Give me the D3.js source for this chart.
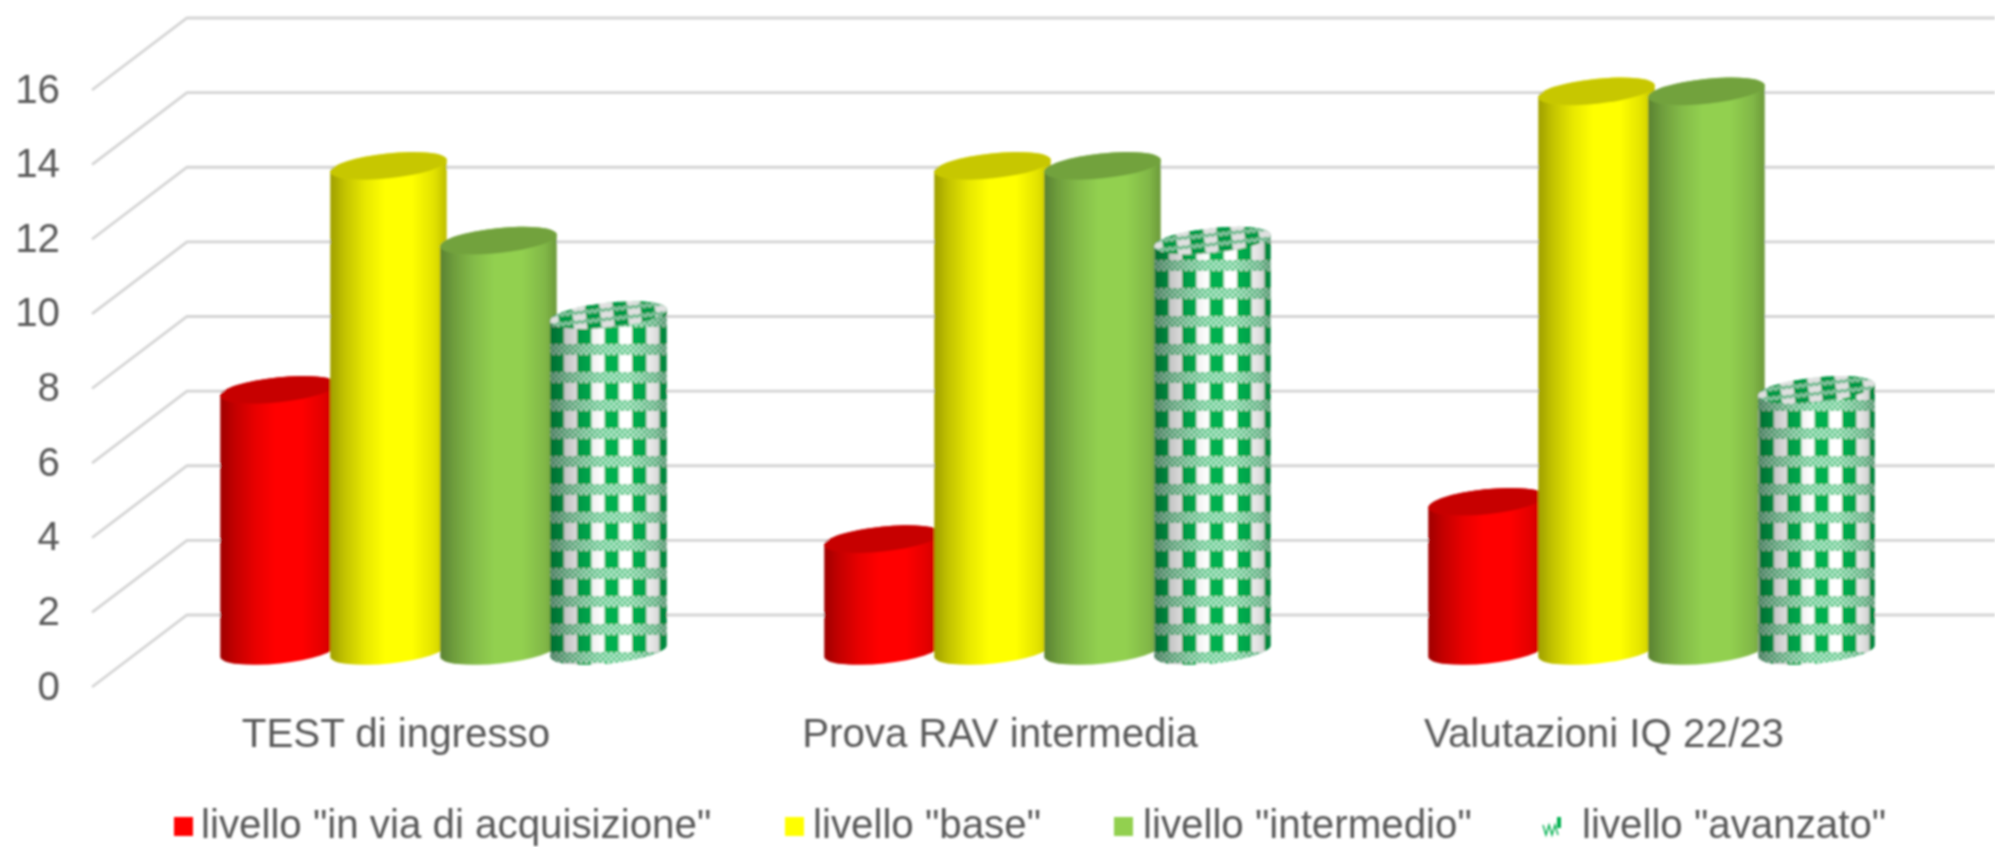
<!DOCTYPE html>
<html>
<head>
<meta charset="utf-8">
<script src="https://cdn.jsdelivr.net/npm/d3@7"></script>
<style>
html,body{margin:0;padding:0;background:#fff;overflow:hidden}
svg{display:block}
text{font-family:"Liberation Sans",Arial,sans-serif;fill:#595959;font-size:40.3px}
</style>
</head>
<body>
<svg id="chart" width="1995" height="847"></svg>
<script>
const categories = ["TEST di ingresso", "Prova RAV intermedia", "Valutazioni IQ 22/23"];
const seriesNames = ['livello "in via di acquisizione"', 'livello "base"', 'livello "intermedio"', 'livello "avanzato"'];
const seriesColors = ["#FF0000", "#FFFF00", "#92D050", "url(#gingham)"];
const inViaValues = [7, 3, 4];
const baseValues = [13, 13, 15];
const intermedioValues = [11, 13, 15];
const avanzatoValues = [9, 11, 7];
const seriesValues = [inViaValues, baseValues, intermedioValues, avanzatoValues];
const yTicks = [0, 2, 4, 6, 8, 10, 12, 14, 16];

const svg = d3.select("#chart");
const defs = svg.append("defs");
const W = 1995;
const GREEN = "#00B050";

// soft edge, as the source picture is an enlarged bitmap
defs.append("filter").attr("id", "soft").attr("x", "-2%").attr("y", "-2%").attr("width", "104%").attr("height", "104%")
  .append("feGaussianBlur").attr("stdDeviation", 0.8);

// cylinder side shading
const shade = defs.append("linearGradient").attr("id", "shade");
[[0, .38], [.12, .24], [.3, .09], [.47, 0], [.7, 0], [.9, .12], [1, .26]].forEach(([o, a]) =>
  shade.append("stop").attr("offset", o).attr("stop-color", "#000").attr("stop-opacity", a));

// gingham fill of the last series
function gingham(id, tileW, tileH, bandH, fineW, fineH, tx, ty, color) {
  const p = defs.append("pattern").attr("id", id).attr("patternUnits", "userSpaceOnUse")
    .attr("width", tileW).attr("height", tileH)
    .attr("patternTransform", `translate(${tx},${ty})`);
  p.append("rect").attr("width", tileW).attr("height", tileH).attr("fill", "#fff");
  p.append("rect").attr("x", 0).attr("y", bandH).attr("width", tileW * 0.52).attr("height", tileH - bandH).attr("fill", color);
  d3.range(Math.ceil(bandH / fineH)).forEach(r => d3.range(Math.ceil(tileW / fineW)).forEach(c => {
    p.append("rect").attr("x", c * fineW).attr("y", r * fineH).attr("width", fineW).attr("height", fineH)
      .attr("fill", (r + c) % 2 ? color : "#c4ebd4").attr("fill-opacity", (r + c) % 2 ? 0.85 : 1);
  }));
}
gingham("gingham", 27.5, 28, 11, 27.5 / 10, 2.75, -0.5, 8, GREEN);
gingham("ginghamTop", 27.5, 9.5, 3.5, 27.5 / 10, 1.75, 5, 2, GREEN);

// scales
const y = d3.scaleLinear().domain([0, 16]).range([615, 18]);
const x0 = d3.scaleBand().domain(categories).range([141, 1953]);
const x1 = d3.scaleBand().domain(seriesNames).range([0, 440]).paddingInner(0);
const rx = 58.5, ry = 12.5, tilt = -6;
const depthX = -95, depthY = 72;        // wall-to-front offset of the 3-D floor
const tc = Math.cos(tilt * Math.PI / 180), ts = Math.sin(tilt * Math.PI / 180);

const root = svg.append("g").attr("filter", "url(#soft)");

// gridlines: wall segment plus side-wall segment
root.append("g").selectAll("path").data(yTicks).join("path")
  .attr("d", d => `M${W},${y(d)}H187L${187 + depthX},${y(d) + depthY}`)
  .attr("fill", "none").attr("stroke", "#d4d4d4").attr("stroke-width", 2.8);

// value axis
const axisG = root.append("g").attr("transform", `translate(68,${depthY})`)
  .call(d3.axisLeft(y).tickValues(yTicks).tickSize(0).tickPadding(8));
axisG.select(".domain").remove();
axisG.selectAll("text").attr("dy", "0.3em");
axisG.attr("font-size", null).attr("font-family", null);

// cylinders
categories.forEach((cat, ci) => {
  seriesNames.forEach((name, si) => {
    const v = seriesValues[si][ci];
    const cx = x0(cat) + x0.bandwidth() / 2 - 220 + x1(name) + x1.bandwidth() / 2 + 0.5;
    const topY = y(v) + depthY / 2, botY = y(0) + depthY / 2;
    const dx = rx * tc, dy = rx * ts;
    const body = `M${cx - dx},${topY - dy}L${cx - dx},${botY - dy}` +
      `A${rx},${ry} ${tilt} 0 0 ${cx + dx},${botY + dy}` +
      `L${cx + dx},${topY + dy}A${rx},${ry} ${tilt} 0 0 ${cx - dx},${topY - dy}Z`;
    const g = root.append("g").attr("class", "cyl");
    g.append("path").attr("d", body).attr("fill", seriesColors[si]);
    g.append("path").attr("d", body).attr("fill", "url(#shade)");
    const top = g.append("g").attr("transform", `translate(${cx},${topY}) rotate(${tilt})`);
    const el = () => top.append("ellipse").attr("rx", rx).attr("ry", ry);
    el().attr("fill", si === 3 ? "url(#ginghamTop)" : seriesColors[si]);
    el().attr("fill", "#000").attr("fill-opacity", si === 3 ? 0.12 : 0.22);
  });
});

// category labels
root.append("g").selectAll("text").data(categories).join("text")
  .attr("x", d => x0(d) + x0.bandwidth() / 2 - 47)
  .attr("y", 747).attr("text-anchor", "middle").text(d => d);

// legend
const legendSwatchX = [174, 785, 1114, 1543];
const legendTextX = [201, 813, 1143, 1582];
const lg = root.append("g");
seriesNames.forEach((name, i) => {
  if (i < 3) {
    lg.append("rect").attr("x", legendSwatchX[i]).attr("y", 817).attr("width", 19).attr("height", 19).attr("fill", seriesColors[i]);
  } else {
    const sx = legendSwatchX[i];
    lg.append("path")
      .attr("d", `M${sx},825l3,10l3,-10l3,10l3,-10l3,10`)
      .attr("fill", "none").attr("stroke", GREEN).attr("stroke-width", 1.4);
    lg.append("rect").attr("x", sx + 14).attr("y", 817).attr("width", 4).attr("height", 11).attr("fill", GREEN);
  }
  lg.append("text").attr("x", legendTextX[i]).attr("y", 837.5).text(name);
});
</script>
</body>
</html>
